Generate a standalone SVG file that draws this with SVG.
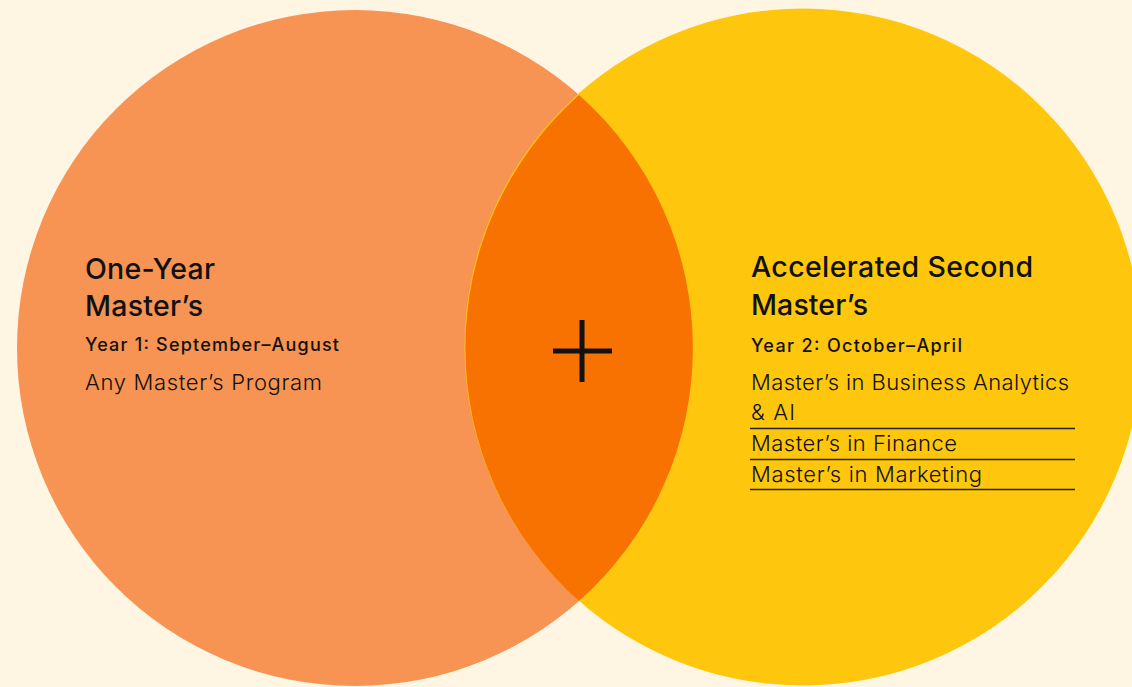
<svg xmlns="http://www.w3.org/2000/svg" width="1132" height="687" viewBox="0 0 1132 687">
<style>
.t{font-family:Inter,"Liberation Sans",sans-serif;fill:#111;}
.h{font-size:28.5px;font-weight:500;}
.y{font-size:18px;font-weight:500;}
.b{font-size:22px;font-weight:300;}
.rule{stroke:#222;stroke-width:1.3;}
</style>
<rect width="1132" height="687" fill="#FEF6E3"/>
<g id="left-circle">
<circle cx="355" cy="348" r="338" fill="#F79353"/>
</g>
<g id="right-circle">
<circle cx="803" cy="347" r="338.5" fill="#FEC70D"/>
</g>
<g id="overlap">
<path d="M579,95 A338,338 0 0 1 579,601 A338.5,338.5 0 0 1 579,95 Z" fill="#F77200"/>
<path d="M582,320 V382 M553,351 H612" stroke="#111" stroke-width="5" fill="none"/>
</g>
<g id="one-year">
<text class="t h" x="85" y="279" textLength="130" lengthAdjust="spacing">One-Year</text>
<text class="t h" x="85" y="316" textLength="118" lengthAdjust="spacing">Master’s</text>
<text class="t y" x="85" y="351" textLength="254" lengthAdjust="spacing">Year 1: September–August</text>
<text class="t b" x="85" y="390" textLength="237" lengthAdjust="spacing">Any Master’s Program</text>
</g>
<g id="accelerated">
<text class="t h" x="751" y="277" textLength="282" lengthAdjust="spacing">Accelerated Second</text>
<text class="t h" x="751" y="315" textLength="117" lengthAdjust="spacing">Master’s</text>
<text class="t y" x="751" y="352" textLength="211" lengthAdjust="spacing">Year 2: October–April</text>
<text class="t b" x="751" y="390" textLength="318" lengthAdjust="spacing">Master’s in Business Analytics</text>
<text class="t b" x="751" y="420" textLength="44" lengthAdjust="spacing">&amp; AI</text>
<line class="rule" x1="750" y1="428.5" x2="1075" y2="428.5"/>
<text class="t b" x="751" y="451" textLength="206" lengthAdjust="spacing">Master’s in Finance</text>
<line class="rule" x1="750" y1="459.5" x2="1075" y2="459.5"/>
<text class="t b" x="751" y="482" textLength="231" lengthAdjust="spacing">Master’s in Marketing</text>
<line class="rule" x1="750" y1="489.5" x2="1075" y2="489.5"/>
</g>
</svg>
